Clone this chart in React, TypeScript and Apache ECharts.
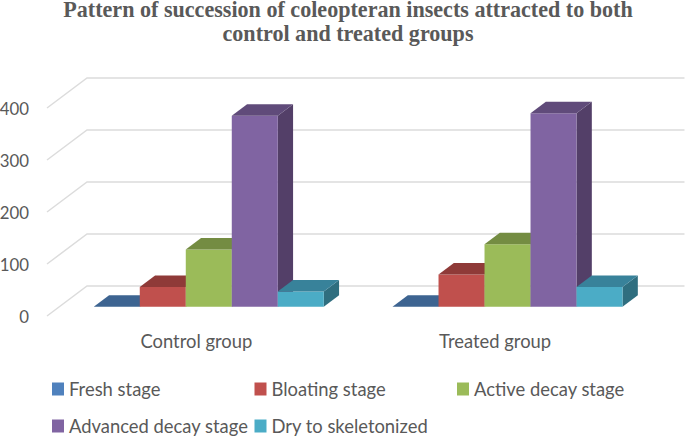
import React, { useEffect, useRef } from "react";
import * as echarts from "echarts";

const titleLines = ["Pattern of succession of coleopteran insects attracted to both", "control and treated groups"];
const groups = ["Control group", "Treated group"];
const stages = ["Fresh stage", "Bloating stage", "Active decay stage", "Advanced decay stage", "Dry to skeletonized"];
const freshStage = [0, 0];
const bloatingStage = [38, 62];
const activeDecayStage = [110, 120];
const advancedDecayStage = [367, 372];
const dryToSkeletonized = [29, 38];
const stageValues = [freshStage, bloatingStage, activeDecayStage, advancedDecayStage, dryToSkeletonized];
const gridTicks = [0, 100, 200, 300, 400];

const frontColors = ["#4f81bd", "#c0504d", "#9bbb59", "#8064a2", "#4bacc6"];
const topColors = ["#3d6491", "#8f3a38", "#748c42", "#604b7a", "#38829a"];
const sideColors = ["#335479", "#7a312f", "#637838", "#533f68", "#2f6e7f"];
const legendPos = [
  [52, 380],
  [254.5, 380],
  [457, 380],
  [52, 417],
  [254.5, 417],
];

const WALL_DX = 40;
const WALL_DY = -30;
const BAR_SHIFT_DX = 12.4;
const BAR_SHIFT_DY = -9.3;
const BAR_DX = 15.3;
const BAR_DY = -11.5;
const BAR_FRACTION = 46 / 298.75;
const FONT = "Lato, 'Noto Sans', sans-serif";
const GREY = "#595959";

export default function App() {
  const ref = useRef<HTMLDivElement | null>(null);
  useEffect(() => {
    const chart = echarts.init(ref.current!, undefined, { renderer: "svg" });

    const wallSeries = {
      type: "custom",
      name: "walls",
      silent: true,
      z: 1,
      encode: { x: 0, y: 1 },
      data: gridTicks.map((t) => [0, t]),
      renderItem: (_p: any, api: any) => {
        const tick = api.value(1);
        const band = api.size([1, 0])[0];
        const left = api.coord([0, tick]);
        const right = api.coord([1, tick]);
        const x0 = left[0] - band / 2;
        const x1 = right[0] + band / 2 + WALL_DX;
        const y = left[1];
        return {
          type: "polyline",
          silent: true,
          shape: {
            points: [
              [x0, y],
              [x0 + WALL_DX, y + WALL_DY],
              [x1, y + WALL_DY],
            ],
          },
          style: { stroke: "#dcdcdc", fill: "none", lineWidth: 1.5 },
        };
      },
    };

    const barSeries = stages.map((name, s) => ({
      type: "custom",
      name,
      silent: true,
      z: 2 + s,
      itemStyle: { color: frontColors[s] },
      encode: { x: 0, y: 1 },
      data: stageValues[s].map((v, i) => [i, v]),
      renderItem: (_p: any, api: any) => {
        const idx = api.value(0);
        const val = api.value(1);
        const band = api.size([1, 0])[0];
        const w = band * BAR_FRACTION;
        const top = api.coord([idx, val]);
        const base = api.coord([idx, 0]);
        const x0 = top[0] + (s - 2.5) * w + BAR_SHIFT_DX;
        const x1 = x0 + w;
        const yt = top[1] + BAR_SHIFT_DY;
        const yb = base[1] + BAR_SHIFT_DY;
        const children: any[] = [];
        if (yb - yt > 0.01) {
          children.push({
            type: "polygon",
            shape: { points: [[x1, yt], [x1 + BAR_DX, yt + BAR_DY], [x1 + BAR_DX, yb + BAR_DY], [x1, yb]] },
            style: { fill: sideColors[s] },
          });
          children.push({
            type: "polygon",
            shape: { points: [[x0, yt], [x1, yt], [x1, yb], [x0, yb]] },
            style: { fill: frontColors[s] },
          });
        }
        children.push({
          type: "polygon",
          shape: { points: [[x0, yt], [x0 + BAR_DX, yt + BAR_DY], [x1 + BAR_DX, yt + BAR_DY], [x1, yt]] },
          style: { fill: topColors[s] },
        });
        return { type: "group", children };
      },
    }));

    chart.setOption({
      animation: false,
      backgroundColor: "#ffffff",
      title: titleLines.map((text, i) => ({
        text,
        left: 348,
        top: i === 0 ? 0 : 24.5,
        padding: 0,
        textAlign: "center",
        textStyle: {
          fontFamily: "'Liberation Serif', serif",
          fontWeight: "bold",
          fontSize: 22.1,
          lineHeight: 18,
          color: GREY,
        },
      })),
      grid: { left: 47, top: 108, width: 597.5, height: 208, containLabel: false, outerBoundsMode: "none" },
      xAxis: {
        type: "category",
        data: groups,
        axisLine: { show: false },
        axisTick: { show: false },
        splitLine: { show: false },
        axisLabel: { color: GREY, fontFamily: FONT, fontSize: 18.4, margin: 16 },
      },
      yAxis: {
        type: "value",
        min: 0,
        max: 400,
        interval: 100,
        axisLine: { show: false },
        axisTick: { show: false },
        splitLine: { show: false },
        axisLabel: { color: GREY, fontFamily: FONT, fontSize: 16.8, margin: 18 },
      },
      legend: stages.map((name, i) => ({
        data: [{ name, icon: "rect" }],
        left: legendPos[i][0],
        top: legendPos[i][1],
        padding: 0,
        itemWidth: 12,
        itemHeight: 13,
        selectedMode: false,
        textStyle: { color: GREY, fontFamily: FONT, fontSize: 18.4, lineHeight: 16 },
      })),
      series: [wallSeries, ...barSeries],
    });
    return () => chart.dispose();
  }, []);
  return <div ref={ref} style={{ position: "absolute", left: 0, top: 0, width: 685, height: 436 }} />;
}
